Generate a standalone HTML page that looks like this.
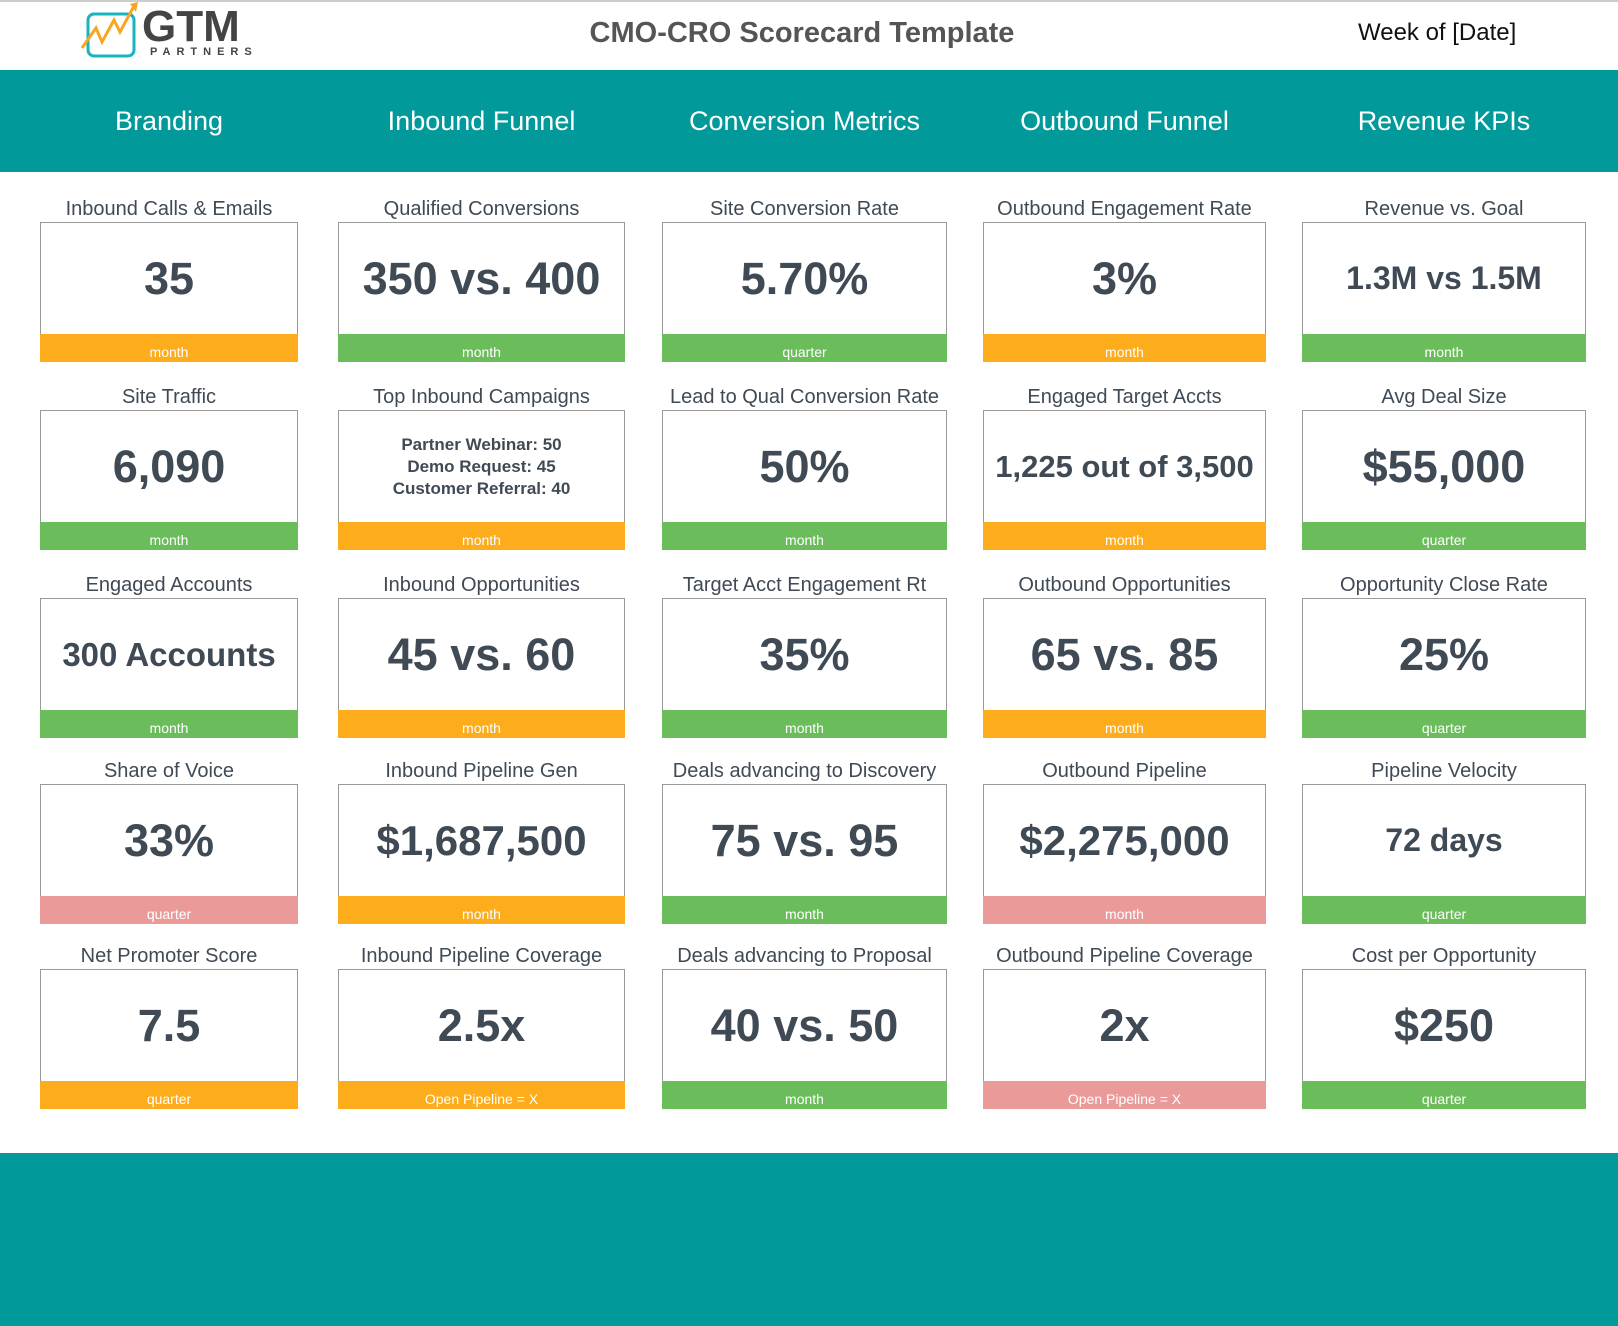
<!DOCTYPE html>
<html><head><meta charset="utf-8">
<style>
*{margin:0;padding:0;box-sizing:border-box}
body{width:1618px;height:1326px;background:#fff;position:relative;overflow:hidden;font-family:"Liberation Sans",sans-serif;color:#3f4a55}
#topline{position:absolute;left:0;top:0;width:1618px;height:2px;background:#ccc}
#band{position:absolute;left:0;top:70px;width:1618px;height:102px;background:#019999}
.tab{position:absolute;top:70px;height:102px;line-height:102px;width:320px;text-align:center;color:#fff;font-size:27px}
#bottom{position:absolute;left:0;top:1153px;width:1618px;height:173px;background:#019999}
#title{position:absolute;left:0;width:1604px;top:17px;text-align:center;font-weight:bold;font-size:29px;color:#555}
#week{position:absolute;left:1358px;top:19px;font-size:24px;color:#111}
.lbl{position:absolute;text-align:center;font-size:20px;white-space:nowrap;color:#3f4a55}
.box{position:absolute;border:1.5px solid #999;background:#fff;display:flex;align-items:center;justify-content:center;text-align:center;font-weight:bold;color:#3f4a55;white-space:nowrap}
.foot{position:absolute;height:28px;line-height:36px;text-align:center;color:#fff;font-size:14px}
</style></head><body>
<div id="topline"></div>
<div style="position:absolute;left:80px;top:2px;width:190px;height:58px">
<svg width="60" height="58"><rect x="8" y="12" width="46" height="42" rx="6" fill="none" stroke="#1bb3c0" stroke-width="3"/><polyline points="2,46 16,26 22,40 34,18 40,30 54,4" fill="none" stroke="#f5a623" stroke-width="3"/><polygon points="50,2 58,0 56,10" fill="#f5a623"/></svg>
<div style="position:absolute;left:62px;top:0;font-size:44px;font-weight:bold;color:#444">GTM</div>
<div style="position:absolute;left:70px;top:44px;font-size:11px;font-weight:bold;letter-spacing:6px;color:#444">PARTNERS</div>
</div>
<div id="title">CMO-CRO Scorecard Template</div>
<div id="week">Week of [Date]</div>
<div id="band"></div>
<div id="bottom"></div>
<script>
const cats=["Branding","Inbound Funnel","Conversion Metrics","Outbound Funnel","Revenue KPIs"];
const colX=[40,338,662,983,1302];
const colW=[258,287,285,283,284];
const rowY=[222,410,598,784,969];
const COL={o:"#fdac1c",g:"#6abd5a",p:"#e99a99"};
const cards=[
[["Inbound Calls & Emails","35","month","o"],["Site Traffic","6,090","month","g"],["Engaged Accounts","300 Accounts","month","g",33],["Share of Voice","33%","quarter","p"],["Net Promoter Score","7.5","quarter","o"]],
[["Qualified Conversions","350 vs. 400","month","g"],["Top Inbound Campaigns","Partner Webinar: 50<br>Demo Request: 45<br>Customer Referral: 40","month","o",17],["Inbound Opportunities","45 vs. 60","month","o"],["Inbound Pipeline Gen","$1,687,500","month","o",42],["Inbound Pipeline Coverage","2.5x","Open Pipeline = X","o"]],
[["Site Conversion Rate","5.70%","quarter","g"],["Lead to Qual Conversion Rate","50%","month","g"],["Target Acct Engagement Rt","35%","month","g"],["Deals advancing to Discovery","75 vs. 95","month","g"],["Deals advancing to Proposal","40 vs. 50","month","g"]],
[["Outbound Engagement Rate","3%","month","o"],["Engaged Target Accts","1,225 out of 3,500","month","o",31],["Outbound Opportunities","65 vs. 85","month","o"],["Outbound Pipeline","$2,275,000","month","p",42],["Outbound Pipeline Coverage","2x","Open Pipeline = X","p"]],
[["Revenue vs. Goal","1.3M vs 1.5M","month","g",32],["Avg Deal Size","$55,000","quarter","g"],["Opportunity Close Rate","25%","quarter","g"],["Pipeline Velocity","72 days","quarter","g",32],["Cost per Opportunity","$250","quarter","g"]]
];
cats.forEach((c,i)=>{
 const t=document.createElement('div');t.className='tab';
 t.style.left=(colX[i]+colW[i]/2-160)+'px';t.textContent=c;
 
 
 document.body.appendChild(t);
});
cards.forEach((col,ci)=>col.forEach((d,ri)=>{
 const x=colX[ci],w=colW[ci],y=rowY[ri];
 const slug=d[0].toLowerCase().replace(/[^a-z0-9]+/g,'-');
 const l=document.createElement('div');l.className='lbl';
 l.style.left=(x-40)+'px';l.style.width=(w+80)+'px';l.style.top=(y-24)+'px';l.textContent=d[0];
 
 
 document.body.appendChild(l);
 const b=document.createElement('div');b.className='box';
 b.style.left=x+'px';b.style.top=y+'px';b.style.width=w+'px';b.style.height='113px';
 b.style.fontSize=(d[4]||45)+'px';
 if(d[4]===17)b.style.lineHeight='22px';
 b.innerHTML=d[1];
 
 
 document.body.appendChild(b);
 const f=document.createElement('div');f.className='foot';
 f.style.left=x+'px';f.style.top=(y+112)+'px';f.style.width=w+'px';f.style.background=COL[d[3]];
 f.textContent=d[2];
 
 
 document.body.appendChild(f);
}));
</script>
</body></html>
